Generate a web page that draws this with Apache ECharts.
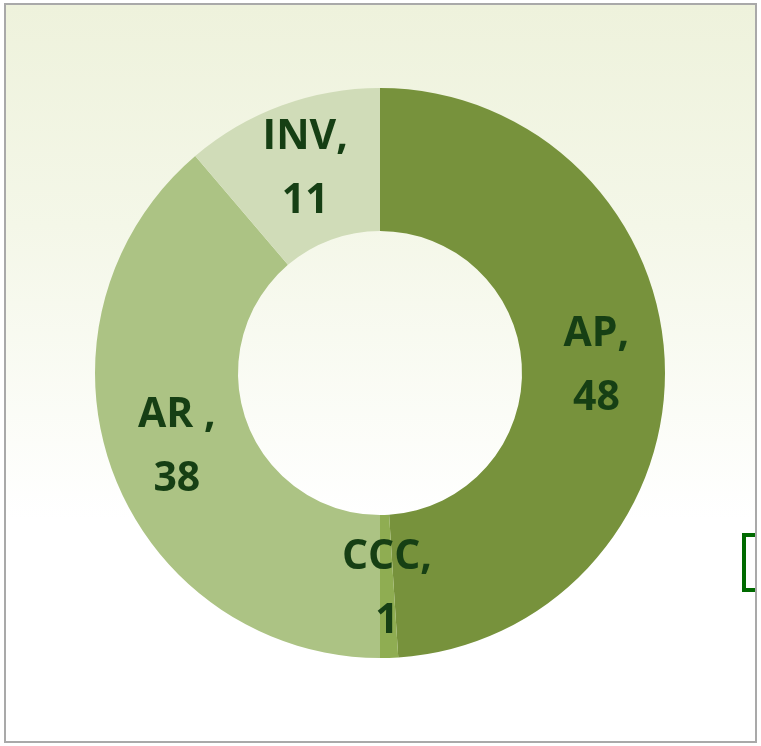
<!DOCTYPE html>
<html>
<head>
<meta charset="utf-8">
<script src="https://cdn.jsdelivr.net/npm/echarts@6/dist/echarts.min.js"></script>
<style>
  html, body { margin: 0; padding: 0; background: #fff; }
  #chart {
    position: absolute;
    left: 4px;
    top: 3px;
    width: 753px;
    height: 740px;
    box-sizing: border-box;
    border: 2px solid #a9a9a9;
    background: linear-gradient(to bottom, #eef2dc 0%, #f4f7e8 30%, #ffffff 70%, #ffffff 100%);
  }
</style>
</head>
<body>
<div id="chart"></div>
<script>
// slices clockwise from 12 o'clock
const names = ["AP", "CCC", "AR ", "INV"];
const values = [48, 1, 38, 11];
const colors = ["#77923c", "#8fad52", "#acc384", "#d0dcb8"];

let chart = echarts.init(document.getElementById("chart"), null, { renderer: "canvas" });

let data = [];
for (let i = 0; i < names.length; i++) {
  data.push({
    name: names[i],
    value: values[i],
    itemStyle: { color: colors[i] },
  });
}

let option = {
  animation: false,
  graphic: [
    {
      type: "rect",
      left: 736,
      top: 528,
      shape: { width: 30, height: 55 },
      style: { fill: "#ffffff", stroke: "#006a00", lineWidth: 4 },
      silent: true,
    },
  ],
  series: [
    {
      type: "pie",
      center: [374, 368],
      radius: [142, 285],
      startAngle: 90,
      clockwise: true,
      silent: true,
      label: {
        show: true,
        position: "inside",
        formatter: (p) => p.name + ",\n" + p.value,
        color: "#163f14",
        fontFamily: "Open Sans",
        fontWeight: "bold",
        fontSize: 41,
        lineHeight: 64,
      },
      labelLine: { show: false },
      data: data,
    },
  ],
};
chart.setOption(option);
</script>
</body>
</html>
